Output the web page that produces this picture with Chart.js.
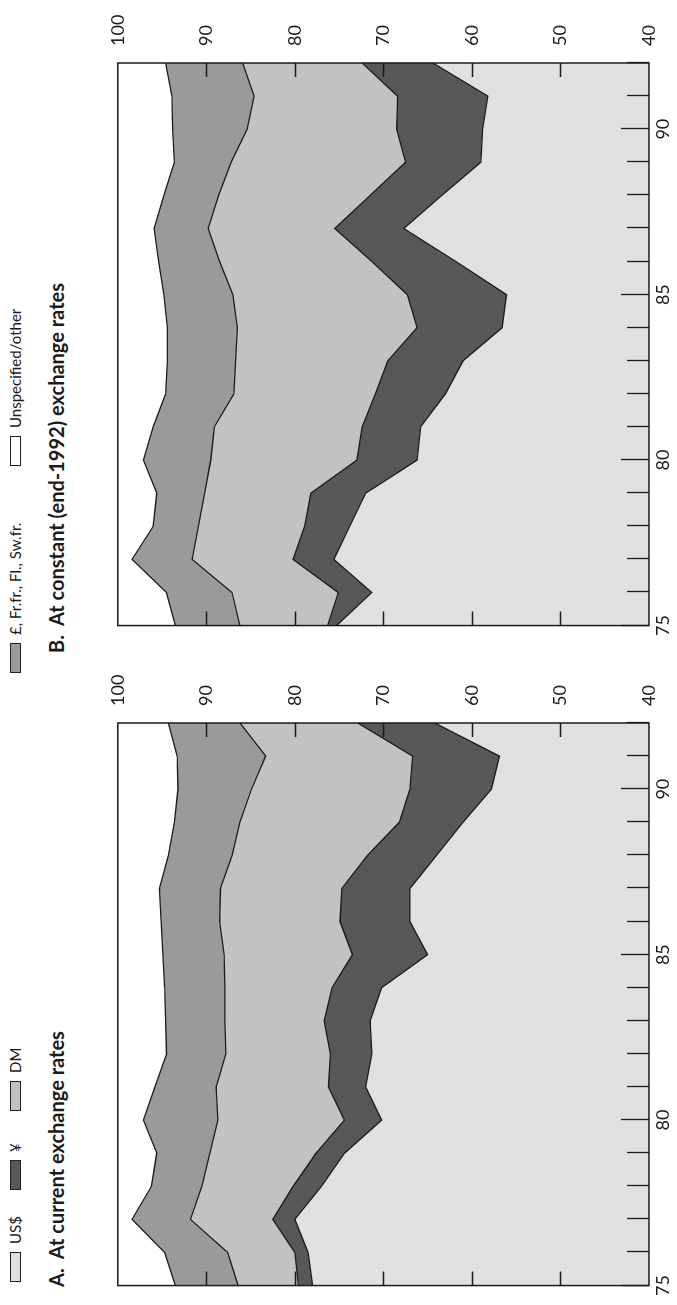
<!DOCTYPE html>
<html>
<head>
<meta charset="utf-8">
<title>Currency composition, 1975–92</title>
<script src="https://cdn.jsdelivr.net/npm/chart.js@4.4.1/dist/chart.umd.min.js"></script>
<style>
  html, body { margin: 0; padding: 0; background: #fff; }
  body { width: 677px; height: 1305px; overflow: hidden; position: relative; }
  /* the figure is laid out landscape and turned a quarter turn counter-clockwise */
  #sheet {
    position: absolute; left: 0; top: 0; width: 1305px; height: 677px;
    transform-origin: 0 0; transform: translate(0, 1305px) rotate(-90deg);
    font-family: Lato, "Open Sans", "DejaVu Sans", sans-serif; color: #1b1b1b; background: #fff;
  }
  .key { position: absolute; top: 6px; height: 18px; display: flex; align-items: center;
         font-size: 15px; white-space: nowrap; }
  .key i { display: inline-block; width: 30px; height: 11px; border: 1px solid #222;
           box-sizing: border-box; margin-right: 8px; }
  .title { position: absolute; top: 44px; font-weight: 700; font-size: 20px; white-space: nowrap; }
  .panel { position: absolute; top: 90px; }
</style>
</head>
<body>
<div id="sheet">
  <div class="key" style="left:23px"><i style="background:#e0e0e0"></i>US$</div>
  <div class="key" style="left:115px"><i style="background:#585858"></i>¥</div>
  <div class="key" style="left:194px"><i style="background:#c2c2c2"></i>DM</div>
  <div class="key" style="left:632px"><i style="background:#9a9a9a"></i>£, Fr.fr., Fl., Sw.fr.</div>
  <div class="key" style="left:839px"><i style="background:#ffffff"></i>Unspecified/other</div>

  <div class="title" style="left:18px">A.&nbsp; At current exchange rates</div>
  <div class="title" style="left:652px">B.&nbsp; At constant (end-1992) exchange rates</div>

  <canvas id="panelA" class="panel" width="626" height="587" style="left:6px"></canvas>
  <canvas id="panelB" class="panel" width="626" height="587" style="left:666px"></canvas>
</div>

<script>
// years on the horizontal axis, shares (percent) stacked to 100
const years = [75, 76, 77, 78, 79, 80, 81, 82, 83, 84, 85, 86, 87, 88, 89, 90, 91, 92];
const labelledYears = [75, 80, 85, 90];
const valueTicks = [40, 50, 60, 70, 80, 90, 100];

const currencies = ['US$', '¥', 'DM', '£, Fr.fr., Fl., Sw.fr.', 'Unspecified/other'];

// A. At current exchange rates
const usdA   = [78.0, 78.5, 80.0, 77.0, 74.4, 70.2, 72.0, 71.3, 71.5, 70.2, 65.0, 67.0, 67.0, 64.0, 61.0, 57.8, 56.9, 64.2];
const yenA   = [ 1.6,  1.5,  2.5,  3.2,  3.2,  4.2,  4.2,  4.7,  5.2,  5.6,  8.5,  7.9,  7.7,  7.8,  7.2,  9.2,  9.8,  8.7];
const dmA    = [ 6.8,  7.6,  9.3, 10.3, 12.0, 14.3, 12.7, 11.8, 11.2, 12.1, 14.5, 13.6, 13.7, 15.3, 18.0, 17.9, 16.6, 13.3];
const euroA  = [ 7.1,  7.1,  6.6,  5.7,  6.0,  8.4,  6.9,  6.7,  6.7,  6.8,  6.9,  6.6,  6.9,  7.2,  7.4,  8.3, 10.0,  8.1];
const otherA = [ 6.5,  5.3,  1.6,  3.8,  4.4,  2.9,  4.2,  5.5,  5.4,  5.3,  5.1,  4.9,  4.7,  5.7,  6.4,  6.8,  6.7,  5.7];

// B. At constant (end-1992) exchange rates
const usdB   = [75.3, 71.3, 75.6, 73.8, 72.0, 66.2, 65.8, 63.0, 61.0, 56.6, 56.1, 61.8, 67.7, 63.4, 59.0, 58.8, 58.2, 64.4];
const yenB   = [ 1.0,  3.8,  4.6,  5.1,  6.2,  6.8,  6.6,  7.9,  8.5,  9.6, 11.2,  9.5,  7.8,  8.1,  8.5,  9.7, 10.2,  8.0];
const dmB    = [ 9.9, 12.0, 11.4, 12.0, 12.0, 16.5, 16.7, 16.0, 17.2, 20.3, 19.7, 17.2, 14.3, 17.1, 19.7, 16.9, 16.2, 13.5];
const euroB  = [ 7.3,  7.4,  6.8,  5.1,  5.4,  7.6,  6.9,  7.7,  7.7,  7.9,  7.8,  6.9,  6.1,  6.2,  6.4,  8.4,  9.3,  8.7];
const otherB = [ 6.5,  5.5,  1.6,  4.0,  4.4,  2.9,  4.0,  5.4,  5.6,  5.6,  5.2,  4.6,  4.1,  5.2,  6.4,  6.2,  6.1,  5.4];

const fills = ['#e0e0e0', '#585858', '#c2c2c2', '#9a9a9a', '#ffffff'];
const ink = '#1b1b1b';
const tickFont = { family: 'Lato, "Open Sans", sans-serif', size: 18 };

// frame with inward tick marks: years along the bottom, shares on both sides
const frameTicks = {
  id: 'frameTicks',
  afterDraw(chart) {
    const { ctx, chartArea: a, scales: { x, y } } = chart;
    ctx.save();
    ctx.strokeStyle = ink;
    ctx.lineWidth = 1.3;
    ctx.beginPath();
    years.forEach((yr, i) => {
      const px = Math.round(x.getPixelForValue(i)) + 0.5;
      const len = labelledYears.includes(yr) ? 28 : 22;
      ctx.moveTo(px, a.bottom);
      ctx.lineTo(px, a.bottom - len);
    });
    valueTicks.slice(1, -1).forEach(v => {
      const py = Math.round(y.getPixelForValue(v)) + 0.5;
      ctx.moveTo(a.left, py);  ctx.lineTo(a.left + 14, py);
      ctx.moveTo(a.right, py); ctx.lineTo(a.right - 14, py);
    });
    ctx.stroke();
    ctx.lineWidth = 1.5;
    ctx.strokeRect(a.left, a.top, a.right - a.left, a.bottom - a.top);
    ctx.restore();
  }
};

function buildPanel(id, series) {
  const datasets = series.map((vals, i) => ({
    label: currencies[i],
    data: vals,
    fill: i === 0 ? 'start' : '-1',
    backgroundColor: fills[i],
    borderColor: ink,
    borderWidth: i === series.length - 1 ? 0 : 1.3,
    pointRadius: 0,
    tension: 0
  }));
  return new Chart(document.getElementById(id), {
    type: 'line',
    data: { labels: years.map(String), datasets },
    options: {
      responsive: false,
      animation: false,
      devicePixelRatio: 1,
      layout: { padding: { left: 10, top: 12, right: 0, bottom: 0 } },
      plugins: { legend: { display: false }, tooltip: { enabled: false } },
      scales: {
        x: {
          type: 'category', position: 'bottom', offset: false,
          grid: { display: false, drawTicks: false }, border: { display: false },
          ticks: {
            autoSkip: false, maxRotation: 0, minRotation: 0, padding: 3,
            font: tickFont, color: ink,
            callback: (v, i) => labelledYears.includes(years[i]) ? String(years[i]) : ''
          },
          afterFit: s => { s.height = 28; }
        },
        y: {
          type: 'linear', position: 'right', stacked: true, min: 40, max: 100,
          grid: { display: false, drawTicks: false }, border: { display: false },
          ticks: { stepSize: 10, padding: 17, font: tickFont, color: ink },
          afterFit: s => { s.width = 50; }
        }
      }
    },
    plugins: [frameTicks]
  });
}

buildPanel('panelA', [usdA, yenA, dmA, euroA, otherA]);
buildPanel('panelB', [usdB, yenB, dmB, euroB, otherB]);
</script>
</body>
</html>
